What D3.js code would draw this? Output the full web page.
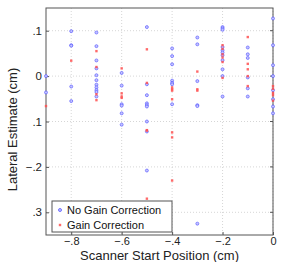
<!DOCTYPE html>
<html>
<head>
<meta charset="utf-8">
<script src="https://cdn.jsdelivr.net/npm/d3@7"></script>
<style>
  body { margin: 0; background: #fff; }
  text { font-family: "Liberation Sans", Arial, sans-serif; }
</style>
</head>
<body>
<svg width="305" height="262"></svg>
<script>
// scanner start positions (cm)
var positions = [-0.9, -0.8, -0.7, -0.6, -0.5, -0.4, -0.3, -0.2, -0.1, 0];

// lateral estimates without gain correction, one list per position
var noGain = [
    [0, -0.036],
    [0.099, 0.068, 0.067, -0.023, -0.055],
    [0.096, 0.066, 0.0345, 0.017, 0.002, -0.009, -0.019, -0.025, -0.031, -0.035, -0.045],
    [0.007, -0.021, -0.062, -0.065, -0.082, -0.107],
    [0.108, -0.018, -0.042, -0.06, -0.064, -0.067, -0.1, -0.122, -0.208],
    [0.061, 0.044, 0.026, -0.010, -0.015, -0.018, -0.062],
    [0.085, 0.070, -0.011, -0.064, -0.066, -0.325],
    [0.108, 0.105, 0.102, 0.064, 0.057, 0.052, 0.046, 0.035, 0.015, 0, -0.045],
    [0.063, 0.048, 0.040, -0.003, -0.027, -0.045],
    [0.127, 0.068, 0.024, 0, -0.031, -0.051, -0.067, -0.082]
];

// lateral estimates with gain correction
var gain = [
    [-0.066],
    [0.034],
    [0.055, 0.02, -0.04, -0.053],
    [0.017, -0.038, -0.045, -0.048],
    [0.059, -0.015, -0.119, -0.12, -0.27],
    [-0.025, -0.029, -0.032, -0.051, -0.124, -0.135, -0.23],
    [0.010, -0.029, -0.032],
    [0.068, 0.06, 0.048, 0.041, 0.031, -0.004],
    [0.086, 0.027, 0.015, 0, -0.022],
    [-0.022, -0.028, -0.037, -0.042, -0.054]
];

var xTicks = [-0.8, -0.6, -0.4, -0.2, 0],
    xTickLabels = ["\u2212.8", "\u2212.6", "\u2212.4", "\u2212.2", "0"];
var yTicks = [0.1, 0, -0.1, -0.2, -0.3],
    yTickLabels = [".1", "0", ".1", "\u2212.2", ".3"];

var svg = d3.select("svg");
var pLeft = 46, pRight = 273, pTop = 8, pBottom = 235;

var x = d3.scaleLinear().domain([-0.9, 0]).range([pLeft, pRight]);
var y = d3.scaleLinear().domain([-0.35, 0.15]).range([pBottom, pTop]);

// grid
svg.append("g").selectAll("line")
    .data(xTicks).enter().append("line")
    .attr("x1", d => x(d)).attr("x2", d => x(d))
    .attr("y1", pTop).attr("y2", pBottom)
    .attr("stroke", "#bbb").attr("stroke-width", 0.6)
    .attr("stroke-dasharray", "1,2");
svg.append("g").selectAll("line")
    .data(yTicks).enter().append("line")
    .attr("x1", pLeft).attr("x2", pRight)
    .attr("y1", d => y(d)).attr("y2", d => y(d))
    .attr("stroke", "#bbb").attr("stroke-width", 0.6)
    .attr("stroke-dasharray", "1,2");

// axes
svg.append("g")
    .attr("transform", "translate(0," + pBottom + ")")
    .call(d3.axisBottom(x).tickValues(xTicks).tickSize(-3).tickPadding(2.5)
        .tickFormat((d, i) => xTickLabels[i]))
    .call(g => g.select(".domain").remove())
    .selectAll("text").attr("font-size", 11).attr("fill", "#222");

svg.append("g")
    .attr("transform", "translate(" + pLeft + ",0)")
    .call(d3.axisLeft(y).tickValues(yTicks).tickSize(-3).tickPadding(4)
        .tickFormat((d, i) => yTickLabels[i]))
    .call(g => g.select(".domain").remove())
    .selectAll("text").attr("font-size", 11.5).attr("fill", "#222");

svg.selectAll(".tick line").attr("stroke", "#555");

// right-side ticks (box)
svg.append("g").selectAll("line")
    .data(yTicks).enter().append("line")
    .attr("x1", pRight - 3).attr("x2", pRight)
    .attr("y1", d => y(d)).attr("y2", d => y(d))
    .attr("stroke", "#555");

svg.append("rect")
    .attr("x", pLeft).attr("y", pTop)
    .attr("width", pRight - pLeft).attr("height", pBottom - pTop)
    .attr("fill", "none").attr("stroke", "#555").attr("stroke-width", 1);

// points
var blue = [], red = [];
positions.forEach(function(p, i) {
    noGain[i].forEach(v => blue.push({x: p, y: v}));
    gain[i].forEach(v => red.push({x: p, y: v}));
});

svg.append("g").selectAll("circle")
    .data(blue).enter().append("circle")
    .attr("cx", d => x(d.x)).attr("cy", d => y(d.y))
    .attr("r", 1.5)
    .attr("fill", "#c4c4ff").attr("stroke", "#5555ff").attr("stroke-width", 0.8)
    .attr("stroke-opacity", 0.8);

svg.append("g").selectAll("rect")
    .data(red).enter().append("rect")
    .attr("x", d => x(d.x) - 1.2).attr("y", d => y(d.y) - 1.2)
    .attr("width", 2.4).attr("height", 2.4)
    .attr("fill", "#ff5050").attr("opacity", 0.85);

// legend
var lg = svg.append("g");
lg.append("rect")
    .attr("x", 52).attr("y", 201).attr("width", 120).attr("height", 31)
    .attr("fill", "#fff").attr("stroke", "#555");
lg.append("circle").attr("cx", 60).attr("cy", 210).attr("r", 1.5)
    .attr("fill", "#c4c4ff").attr("stroke", "#5555ff").attr("stroke-width", 0.8);
lg.append("rect").attr("x", 58.8).attr("y", 223.8).attr("width", 2.4).attr("height", 2.4)
    .attr("fill", "#ff5050").attr("opacity", 0.85);
lg.append("text").attr("x", 67).attr("y", 214).attr("font-size", 11).attr("fill", "#111")
    .text("No Gain Correction");
lg.append("text").attr("x", 67).attr("y", 228.5).attr("font-size", 11).attr("fill", "#111")
    .text("Gain Correction");

// axis titles
svg.append("text")
    .attr("x", (pLeft + pRight) / 2).attr("y", 260)
    .attr("text-anchor", "middle").attr("font-size", 13).attr("fill", "#222")
    .text("Scanner Start Position (cm)");

svg.append("text")
    .attr("transform", "translate(17,129.5) rotate(-90)")
    .attr("text-anchor", "middle").attr("font-size", 13).attr("fill", "#222")
    .text("Lateral Estimate (cm)");
</script>
</body>
</html>
